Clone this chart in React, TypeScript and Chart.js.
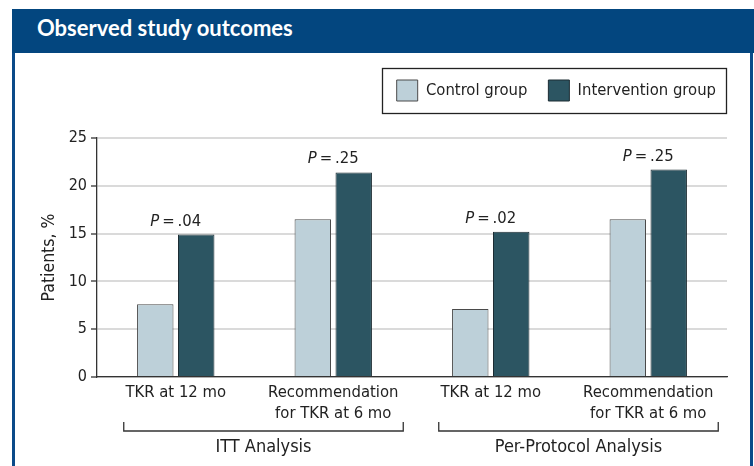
import React, { useEffect, useRef } from 'react';
import { Chart, registerables } from 'chart.js';

Chart.register(...registerables);

const FONT = "'DejaVu Sans Condensed', 'Liberation Sans Narrow', 'DejaVu Sans', sans-serif";
const TEXT = '#222222';

const categories: (string | string[])[] = [
  'TKR at 12 mo',
  ['Recommendation', 'for TKR at 6 mo'],
  'TKR at 12 mo',
  ['Recommendation', 'for TKR at 6 mo'],
];
const seriesNames = ['Control group', 'Intervention group'];
const controlValues = [7.6, 16.5, 7.1, 16.5];
const interventionValues = [14.9, 21.4, 15.2, 21.7];
const pValues = ['.04', '.25', '.02', '.25'];
const groupLabels = ['ITT Analysis', 'Per-Protocol Analysis'];
const groupRanges = [
  [0, 1],
  [2, 3],
];
const yMax = 25;
const yStep = 5;
const yTitle = 'Patients, %';
const chartTitle = 'Observed study outcomes';

const pLabelPlugin = {
  id: 'pLabels',
  afterDatasetsDraw(chart: any) {
    const ctx = chart.ctx;
    const xs = chart.scales.x;
    const m0 = chart.getDatasetMeta(0);
    const m1 = chart.getDatasetMeta(1);
    pValues.forEach((p, i) => {
      const top = Math.min(m0.data[i].y, m1.data[i].y);
      const cx = xs.getPixelForValue(i);
      const y = top - 9;
      ctx.save();
      const italic = 'italic 16.5px ' + FONT;
      const normal = '16.5px ' + FONT;
      ctx.font = italic;
      const w1 = ctx.measureText('P').width;
      const rest = '\u2009=\u2009' + p;
      ctx.font = normal;
      const w2 = ctx.measureText(rest).width;
      const start = cx - (w1 + w2) / 2;
      ctx.textBaseline = 'alphabetic';
      ctx.textAlign = 'left';
      ctx.fillStyle = TEXT;
      ctx.font = italic;
      ctx.fillText('P', start, y);
      ctx.font = normal;
      ctx.fillText(rest, start + w1, y);
      ctx.restore();
    });
  },
};

const groupPlugin = {
  id: 'groups',
  afterDraw(chart: any) {
    const ctx = chart.ctx;
    const xs = chart.scales.x;
    const y = chart.chartArea.bottom + 54;
    groupRanges.forEach(([a, b], g) => {
      const left = xs.getPixelForValue(a) - 52;
      const right = xs.getPixelForValue(b) + 70;
      ctx.save();
      ctx.strokeStyle = '#333333';
      ctx.lineWidth = 1.3;
      ctx.beginPath();
      ctx.moveTo(left, y - 9);
      ctx.lineTo(left, y);
      ctx.lineTo(right, y);
      ctx.lineTo(right, y - 9);
      ctx.stroke();
      ctx.font = '18px ' + FONT;
      ctx.fillStyle = TEXT;
      ctx.textAlign = 'center';
      ctx.textBaseline = 'alphabetic';
      ctx.fillText(groupLabels[g], (left + right) / 2, y + 21);
      ctx.restore();
    });
  },
};

const legendFramePlugin = {
  id: 'legendFrame',
  afterDraw(chart: any) {
    const lg = chart.legend;
    if (!lg || !lg.legendHitBoxes || !lg.legendHitBoxes.length) return;
    const hb = lg.legendHitBoxes;
    const first = hb[0];
    const last = hb[hb.length - 1];
    const ctx = chart.ctx;
    const left = first.left - 15;
    const right = last.left + last.width + 10;
    const top = first.top - 12;
    const bottom = first.top + 21 + 12;
    ctx.save();
    ctx.strokeStyle = '#222222';
    ctx.lineWidth = 1.3;
    ctx.strokeRect(Math.round(left) + 0.5, Math.round(top) + 0.5, Math.round(right - left), Math.round(bottom - top));
    ctx.restore();
  },
};

export default function App() {
  const ref = useRef<HTMLCanvasElement | null>(null);

  useEffect(() => {
    if (!ref.current) return;
    Chart.defaults.font.family = FONT;
    Chart.defaults.color = TEXT;
    const chart = new Chart(ref.current, {
      type: 'bar',
      data: {
        labels: categories as any,
        datasets: [
          {
            label: seriesNames[0],
            data: controlValues,
            backgroundColor: '#BDD0D9',
            borderColor: '#4a4a4a',
            borderWidth: 1,
            xAxisID: 'x',
            yAxisID: 'y',
            categoryPercentage: 0.52,
            barPercentage: 0.89,
          },
          {
            label: seriesNames[1],
            data: interventionValues,
            backgroundColor: '#2C5562',
            borderColor: '#1c2c33',
            borderWidth: 1,
            xAxisID: 'x',
            yAxisID: 'y',
            categoryPercentage: 0.52,
            barPercentage: 0.89,
          },
        ],
      },
      options: {
        responsive: false,
        animation: false,
        layout: { padding: { left: 33, right: 17, top: 59, bottom: 0 } },
        plugins: {
          legend: {
            display: true,
            position: 'top',
            align: 'end',
            labels: {
              boxWidth: 21,
              boxHeight: 21,
              padding: 21,
              color: TEXT,
              font: { size: 16.5, family: FONT },
            },
          },
          tooltip: { enabled: false },
          title: { display: false },
        },
        scales: {
          x: {
            type: 'category',
            position: 'bottom',
            z: 1,
            grid: { display: false, drawTicks: false },
            border: { display: true, color: '#333333', width: 1.3 },
            ticks: {
              color: TEXT,
              padding: 5,
              maxRotation: 0,
              autoSkip: false,
              font: { size: 16.5, lineHeight: 1.27, family: FONT },
            },
            afterFit: (s: any) => {
              s.height = 89;
            },
          },
          xPad: {
            type: 'linear',
            position: 'top',
            display: true,
            grid: { display: false, drawTicks: false },
            border: { display: false },
            ticks: { display: false },
            afterFit: (s: any) => {
              s.height = 27;
            },
          },
          y: {
            type: 'linear',
            position: 'left',
            min: 0,
            max: yMax,
            grid: {
              color: '#dadada',
              lineWidth: 2,
              tickColor: '#333333',
              tickLength: 6,
              tickWidth: 1.3,
            },
            border: { display: true, color: '#333333', width: 1.3 },
            ticks: {
              stepSize: yStep,
              padding: 4,
              color: TEXT,
              font: { size: 16, family: FONT },
            },
            title: {
              display: true,
              text: yTitle,
              color: TEXT,
              padding: { top: 5.5, bottom: 4 },
              font: { size: 17.5, family: FONT },
            },
            afterFit: (s: any) => {
              s.width = 64;
            },
          },
          yPad: {
            type: 'linear',
            position: 'right',
            display: true,
            grid: { display: false, drawTicks: false },
            border: { display: false },
            ticks: { display: false },
            afterFit: (s: any) => {
              s.width = 10;
            },
          },
        },
      } as any,
      plugins: [pLabelPlugin, groupPlugin, legendFramePlugin],
    });
    return () => chart.destroy();
  }, []);

  return (
    <div
      style={{
        position: 'fixed',
        left: 0,
        top: 0,
        width: 754,
        height: 466,
        background: '#ffffff',
        overflow: 'hidden',
      }}
    >
      <canvas
        ref={ref}
        width={754}
        height={466}
        style={{ position: 'absolute', left: 0, top: 0, width: 754, height: 466 }}
      />
      <div
        style={{
          position: 'absolute',
          left: 12,
          top: 9,
          width: 742,
          height: 44,
          background: '#03467F',
        }}
      >
        <span
          style={{
            position: 'absolute',
            left: 25,
            top: 6,
            fontFamily: 'Lato, sans-serif',
            fontWeight: 700,
            fontSize: 22,
            lineHeight: '26.4px',
            color: '#ffffff',
            whiteSpace: 'nowrap',
          }}
        >
          {chartTitle}
        </span>
      </div>
      <div style={{ position: 'absolute', left: 12, top: 53, width: 3, height: 413, background: '#0B4A89' }} />
      <div style={{ position: 'absolute', left: 750, top: 53, width: 3, height: 413, background: '#0B4A89' }} />
    </div>
  );
}
